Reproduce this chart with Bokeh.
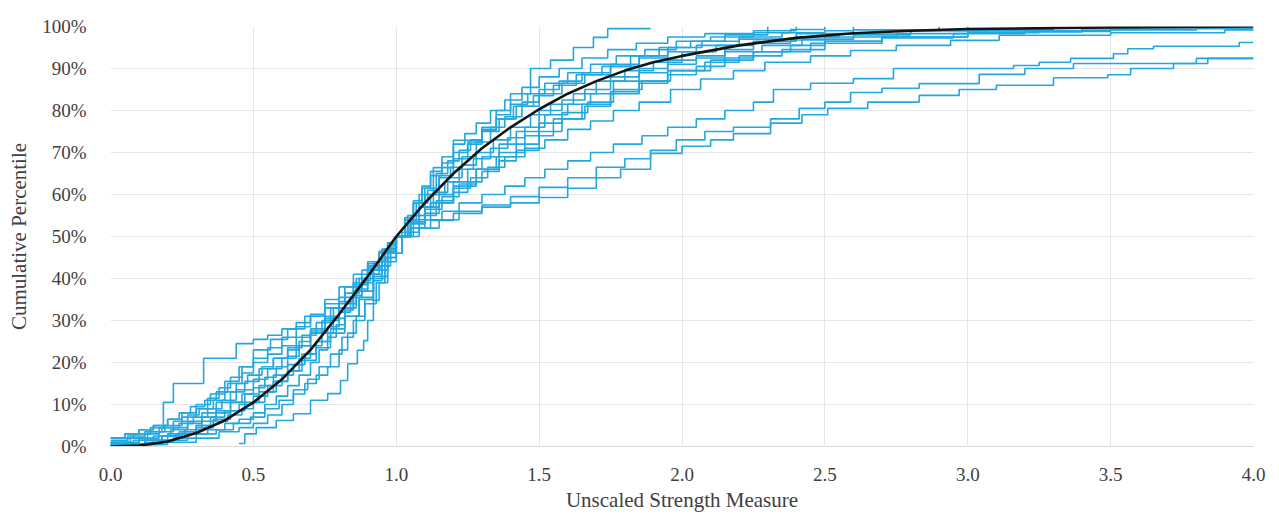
from bokeh.plotting import figure
from bokeh.models import Range1d, SingleIntervalTicker, PrintfTickFormatter, ColumnDataSource
from bokeh.embed import file_html
from bokeh.resources import INLINE

# ---- data (x = unscaled strength, y = cumulative percentile in %) ----
ref_x = [0, 0.1, 0.2, 0.3, 0.4, 0.5, 0.6, 0.7, 0.8, 0.9, 1.0, 1.1, 1.2, 1.3, 1.4, 1.5, 1.6, 1.7, 1.8, 1.9,
         2.0, 2.2, 2.4, 2.6, 2.8, 3.0, 3.5, 4.0]
ref_y = [0, 0.2, 1.2, 3.2, 6.2, 10.5, 16, 23, 31.5, 40.5, 50, 58, 65, 71, 76, 80.3, 84, 87, 89.5, 91.5,
         93, 95.5, 97.3, 98.4, 99, 99.4, 99.8, 100]

a_x = [0, 0.06, 0.12, 0.17, 0.22, 0.27, 0.31, 0.36, 0.40, 0.44, 0.48, 0.53, 0.57, 0.62, 0.66, 0.70, 0.75, 0.80,
       0.85, 0.90, 0.95, 1.0, 1.05, 1.1, 1.16, 1.22, 1.3, 1.38, 1.45, 1.52, 1.6, 1.68, 1.76, 1.86, 1.95, 2.05,
       2.15, 2.25, 2.32, 2.45, 2.6, 2.74, 3.16, 3.25, 3.36, 3.51, 3.56, 3.65, 3.95, 4.0]
a_y = [1, 2, 3, 4.5, 6, 7.5, 9, 11, 13, 15, 17, 19, 21, 23, 25, 27.5, 30, 33, 37, 41, 45, 50, 52, 54, 56, 58,
       60, 62, 64, 66, 68, 70, 72, 74, 76, 78, 80, 82, 85, 86.5, 87.6, 90, 90.7, 91.5, 92.4, 93.5, 94.7, 95.3,
       96.2, 96.2]

b_x = [0, 0.05, 0.1, 0.15, 0.2, 0.24, 0.28, 0.33, 0.37, 0.41, 0.46, 0.5, 0.55, 0.6, 0.65, 0.7, 0.75, 0.8, 0.86,
       0.92, 0.97, 1.02, 1.08, 1.15, 1.22, 1.3, 1.4, 1.5, 1.6, 1.7, 1.8, 1.89, 1.98, 2.08, 2.18, 2.31, 2.41, 2.5,
       2.59, 2.7, 2.83, 3.04, 3.2, 3.37, 3.8, 4.0]
b_y = [2, 3, 4, 5, 6.5, 8, 9.5, 11, 13, 15, 17.5, 20, 22, 24, 26, 28, 30.5, 33, 37, 42, 46, 50, 52, 54, 56,
       57.5, 59.5, 61.7, 64, 66.5, 68.5, 70.5, 73, 75, 76, 78, 80.5, 82, 84.3, 85.3, 86.4, 88.6, 90, 91.2, 92.4,
       92.4]

c_x = [0, 0.08, 0.15, 0.21, 0.27, 0.32, 0.37, 0.42, 0.47, 0.52, 0.57, 0.62, 0.67, 0.72, 0.77, 0.82, 0.87, 0.92,
       0.96, 1.0, 1.05, 1.12, 1.2, 1.3, 1.4, 1.5, 1.6, 1.7, 1.785, 1.89, 2.0, 2.1, 2.18, 2.31, 2.42, 2.51, 2.65,
       2.83, 2.97, 3.10, 3.3, 3.49, 3.57, 3.72, 3.84, 4.0]
c_y = [0.5, 1.5, 2.5, 4, 5.5, 7, 8.5, 10.5, 12.5, 14.5, 17, 19.5, 22, 25, 28, 31, 35, 40, 45, 50, 52, 53.8,
       55.5, 57, 58, 59.3, 61.5, 64, 66, 69.8, 71.5, 73, 74.5, 77, 79, 80.5, 82, 83.6, 85, 86, 87.8, 88.5, 90,
       91.2, 92.4, 92.4]

d_x = [0, 0.1, 0.18, 0.25, 0.3, 0.36, 0.42, 0.47, 0.52, 0.57, 0.62, 0.67, 0.72, 0.77, 0.82, 0.87, 0.92, 0.97,
       1.02, 1.08, 1.14, 1.2, 1.26, 1.32, 1.38, 1.45, 1.52, 1.6, 1.68, 1.76, 1.85, 1.96, 2.065, 2.18, 2.29, 2.45,
       2.59, 2.75, 2.94, 3.11, 3.5, 3.9, 4.0]
d_y = [0.5, 1.5, 2.5, 3.5, 5, 6.5, 8.5, 10.5, 13, 15.5, 18, 20.5, 23.5, 27, 31, 35.5, 40.5, 46, 51, 55, 58.5,
       61.5, 64, 66.5, 69, 71, 73, 75.5, 77.5, 80, 82, 85, 87.5, 89.5, 91.5, 93, 94.3, 95.5, 96.7, 97.9, 98.5,
       99.2, 99.2]

s_x = [0, 0.12, 0.22, 0.3, 0.37, 0.43, 0.49, 0.54, 0.59, 0.64, 0.69, 0.73, 0.77, 0.81, 0.85, 0.89, 0.93, 0.97,
       1.0, 1.04, 1.08, 1.13, 1.2, 1.3, 1.35, 1.4, 1.47, 1.54, 1.62, 1.69, 1.74, 1.89]
s_y = [0.5, 1, 2, 3, 4, 5.5, 7, 9, 11, 13.5, 16, 19, 22, 26, 30, 34, 39, 44, 50, 55, 60, 66.4, 72.9, 75.2, 80,
       84, 90, 92, 95, 97.4, 99.5, 99.5]

l_x = [0.45, 0.47, 0.51, 0.58, 0.64, 0.70, 0.76, 0.805, 0.83, 0.864, 0.886, 0.9, 0.92, 0.94, 0.96, 0.98, 1.0,
       1.05, 1.1, 1.15, 1.2, 1.25, 1.3, 1.36, 1.42, 1.5, 1.58, 1.66, 1.75, 1.85, 1.95, 2.05, 2.2, 2.4, 2.6, 2.9]
l_y = [0.7, 3, 4.5, 6.2, 7.8, 11, 12.6, 15.7, 19.7, 22.9, 25.2, 30, 34.8, 39, 43, 47, 50, 55, 60, 64.5, 68.5,
       72, 75, 78, 81, 84, 86.5, 88.5, 90.5, 92.5, 94, 95.5, 97, 98.3, 99.2, 100]

u_x = [0, 0.08, 0.14, 0.185, 0.22, 0.326, 0.44, 0.5, 0.55, 0.6, 0.65, 0.7, 0.75, 0.8, 0.85, 0.9, 0.95, 1.0,
       1.06, 1.12, 1.2, 1.28, 1.36, 1.45, 1.55, 1.65, 1.75, 1.85, 1.95, 2.1, 2.25, 2.45, 2.7, 3.0, 3.4]
u_y = [2, 3, 4.5, 10.5, 15, 21, 24.5, 25.5, 26.5, 28, 29.5, 31, 33, 35.5, 39, 43, 46.5, 50, 54, 58, 62, 66, 70,
       74, 78, 81.5, 84.5, 87, 89.5, 92, 94, 96, 97.5, 98.7, 99.5]

n1_x = [0, 0.07, 0.13, 0.19, 0.25, 0.3, 0.34, 0.38, 0.42, 0.46, 0.5, 0.55, 0.6, 0.65, 0.7, 0.75, 0.8, 0.85,
        0.9, 0.95, 1.0, 1.05, 1.1, 1.15, 1.2, 1.25, 1.3, 1.36, 1.42, 1.5, 1.58, 1.66, 1.75, 1.85, 1.95, 2.05,
        2.15, 2.25, 2.38, 2.5, 2.7, 3.0, 3.25, 3.5, 3.6]
n1_y = [1, 2, 3.5, 5, 7, 9, 11.5, 14, 16.5, 19, 21, 23.5, 26, 28.5, 31.5, 35, 38, 41, 44, 47, 50, 53, 55.5,
        58, 60.5, 63, 65.5, 68, 70.5, 75, 78, 81, 84, 86.5, 88.5, 90.5, 92.5, 94, 95.5, 96.5, 97.5, 98.5, 99,
        99.3, 100]

n2_x = [0, 0.1, 0.17, 0.22, 0.27, 0.32, 0.37, 0.42, 0.47, 0.52, 0.57, 0.62, 0.67, 0.72, 0.77, 0.82, 0.87,
        0.92, 0.96, 1.0, 1.04, 1.08, 1.12, 1.17, 1.22, 1.27, 1.33, 1.39, 1.45, 1.52, 1.6, 1.68, 1.76, 1.85,
        1.95, 2.05, 2.15, 2.28, 2.42, 2.6, 2.8, 3.0]
n2_y = [1, 2, 3.5, 4.5, 6, 8, 10.5, 13, 15.5, 18.5, 21, 23.5, 26.5, 29.5, 33, 36.5, 40, 44, 47, 50, 54, 57,
        60, 63, 66, 68.5, 71, 73.5, 76, 79, 81.5, 84, 87, 89, 91, 92.5, 94, 95.5, 97, 98, 99, 100]

n3_x = [0, 0.12, 0.2, 0.26, 0.32, 0.37, 0.42, 0.46, 0.5, 0.54, 0.58, 0.62, 0.66, 0.7, 0.74, 0.78, 0.82, 0.86,
        0.9, 0.94, 0.97, 1.0, 1.03, 1.07, 1.11, 1.15, 1.19, 1.23, 1.28, 1.33, 1.38, 1.44, 1.5, 1.57, 1.65,
        1.75, 1.85, 1.95, 2.07, 2.2, 2.35, 2.5, 2.6]
n3_y = [0.5, 1.5, 3, 4, 6, 8, 10.5, 12.5, 14, 16.5, 19, 21.5, 24, 27, 30, 33, 36.5, 40, 43.5, 46.5, 48.5, 50,
        54, 58, 61, 64, 66.5, 69, 72.5, 76, 78.5, 82, 85, 87, 89, 91, 93, 95, 96.5, 97.5, 98.5, 99, 100]

n4_x = [0, 0.15, 0.23, 0.3, 0.36, 0.41, 0.46, 0.5, 0.54, 0.58, 0.62, 0.66, 0.7, 0.74, 0.78, 0.82, 0.86, 0.9,
        0.94, 0.97, 1.0, 1.03, 1.06, 1.1, 1.14, 1.18, 1.22, 1.26, 1.3, 1.35, 1.4, 1.46, 1.52, 1.6, 1.68, 1.77,
        1.87, 1.98, 2.1, 2.25, 2.38, 2.5]
n4_y = [0.5, 1.5, 3, 4.5, 6, 7.5, 9, 10.5, 13, 15.5, 18, 21, 24, 27, 30.5, 34, 37.5, 41, 44.5, 47.5, 50, 54,
        58, 61.5, 65, 68, 70.5, 73, 76, 79, 81.5, 84, 86.5, 89, 91, 93, 94.5, 96.5, 97.5, 98.5, 99.3, 100]

n5_x = [0, 0.18, 0.27, 0.34, 0.4, 0.45, 0.5, 0.54, 0.58, 0.62, 0.66, 0.7, 0.73, 0.76, 0.79, 0.82, 0.85, 0.88,
        0.91, 0.94, 0.97, 1.0, 1.03, 1.06, 1.09, 1.12, 1.16, 1.2, 1.24, 1.28, 1.33, 1.38, 1.44, 1.5, 1.57,
        1.65, 1.74, 1.84, 1.95, 2.08, 2.25, 2.4]
n5_y = [0.5, 1.5, 3, 4, 5.5, 6.5, 8, 10, 12, 14.5, 17, 20, 23, 26, 29, 32.5, 36, 39.5, 43, 46, 48.5, 50, 54.5,
        58.5, 62, 65.5, 69, 72, 74.5, 77, 80, 82.5, 85.5, 88, 90, 92.5, 94.5, 96, 97.5, 98.3, 99, 100]

n6_x = [0, 0.06, 0.12, 0.18, 0.24, 0.29, 0.34, 0.39, 0.44, 0.5, 0.55, 0.6, 0.65, 0.7, 0.75, 0.8, 0.85, 0.9,
        0.95, 1.0, 1.05, 1.1, 1.16, 1.22, 1.28, 1.35, 1.42, 1.5, 1.58, 1.67, 1.76, 1.86, 1.96, 2.08, 2.2, 2.35,
        2.5, 2.7, 2.95, 3.2, 3.5, 3.8, 4.0]
n6_y = [1.5, 2.5, 3.5, 4.5, 5.5, 7, 9, 11, 13.5, 16, 18.5, 21, 24, 27, 31, 34.5, 38.5, 42.5, 46.5, 50, 53.5,
        56.5, 59.5, 62.5, 66, 69, 72, 77, 79.5, 82, 85, 87, 89.5, 91.5, 93, 94.5, 96.5, 97.3, 98.3, 98.8, 99.2,
        99.5, 99.5]

n7_x = [0, 0.1, 0.18, 0.24, 0.3, 0.35, 0.4, 0.45, 0.5, 0.55, 0.6, 0.64, 0.68, 0.72, 0.76, 0.8, 0.84, 0.88,
        0.92, 0.96, 1.0, 1.04, 1.08, 1.13, 1.18, 1.23, 1.28, 1.34, 1.4, 1.47, 1.54, 1.62, 1.7, 1.8, 1.9, 2.0,
        2.12, 2.25, 2.4, 2.55, 2.8, 3.0, 3.3]
n7_y = [0.5, 1.5, 2.5, 3.5, 5, 7, 8.5, 10, 12, 14.5, 17, 19.5, 22, 25, 28.5, 32, 35.5, 39, 43, 47, 50, 53.5,
        57, 60.5, 64, 67, 70, 73, 76, 79, 81.5, 84, 87, 89.5, 91.5, 94, 95.5, 96.5, 97.5, 98.2, 99, 99.3, 100]

n8_x = [0, 0.2, 0.3, 0.38, 0.45, 0.5, 0.55, 0.6, 0.64, 0.68, 0.72, 0.76, 0.8, 0.83, 0.86, 0.89, 0.92, 0.95,
        0.98, 1.0, 1.03, 1.06, 1.09, 1.12, 1.16, 1.2, 1.25, 1.3, 1.35, 1.41, 1.48, 1.55, 1.63, 1.72, 1.82, 1.92,
        2.03, 2.15, 2.3]
n8_y = [0.5, 1, 2, 3.5, 4.5, 5.5, 7.5, 10, 12.5, 15, 17, 19, 23, 27, 31, 35, 39.5, 44, 48, 50, 54, 58, 61.5,
        64.5, 67.5, 70, 72.5, 75.5, 78, 81, 83.5, 86, 88.5, 90.5, 93, 95, 96.5, 98, 100]

n9_x = [0, 0.05, 0.1, 0.15, 0.2, 0.25, 0.3, 0.35, 0.4, 0.45, 0.5, 0.56, 0.62, 0.68, 0.75, 0.82, 0.88, 0.94,
        1.0, 1.05, 1.1, 1.15, 1.2, 1.25, 1.3, 1.36, 1.42, 1.5, 1.58, 1.66, 1.75, 1.85, 1.95, 2.05, 2.15, 2.25,
        2.38, 2.5, 2.75, 3.0, 3.4, 3.8]
n9_y = [2, 3, 4, 5, 6.5, 8, 10, 12.5, 15.5, 19, 23, 25.5, 28, 31, 34, 38, 42, 46, 50, 53.5, 57, 60, 63, 66,
        69, 72, 75, 80, 82.5, 85, 88, 90, 92, 93, 94.5, 96, 96.8, 97.5, 98.3, 99, 99.4, 99.6]

samples = [(a_x, a_y), (b_x, b_y), (c_x, c_y), (d_x, d_y), (s_x, s_y), (l_x, l_y), (u_x, u_y),
           (n1_x, n1_y), (n2_x, n2_y), (n3_x, n3_y), (n4_x, n4_y), (n5_x, n5_y), (n6_x, n6_y),
           (n7_x, n7_y), (n8_x, n8_y), (n9_x, n9_y)]

x_ticks_step = 0.5
y_ticks_step = 10

# ---- figure ----
FONT = "Liberation Serif"
p = figure(width=1279, height=517, output_backend="svg", toolbar_location=None,
           x_range=Range1d(0, 4), y_range=Range1d(0, 100),
           min_border_left=110, min_border_right=26, min_border_top=26, min_border_bottom=71)
p.outline_line_color = None
p.background_fill_color = "white"

p.xaxis.ticker = SingleIntervalTicker(interval=x_ticks_step)
p.yaxis.ticker = SingleIntervalTicker(interval=y_ticks_step)
p.xaxis.formatter = PrintfTickFormatter(format="%.1f")
p.yaxis.formatter = PrintfTickFormatter(format="%d%%")
p.xaxis.minor_tick_line_color = None
p.yaxis.minor_tick_line_color = None
p.xaxis.major_tick_line_color = None
p.yaxis.major_tick_line_color = None
p.xaxis.axis_line_color = "#d9d9d9"
p.yaxis.axis_line_color = None
for ax in (p.xaxis, p.yaxis):
    ax.major_label_text_font = FONT
    ax.major_label_text_font_size = "19px"
    ax.major_label_text_color = "#404040"
    ax.axis_label_text_font = FONT
    ax.axis_label_text_font_size = "21px"
    ax.axis_label_text_font_style = "normal"
    ax.axis_label_text_color = "#404040"
p.xaxis.major_label_standoff = 15
p.yaxis.major_label_standoff = 18
p.xaxis.axis_label = "Unscaled Strength Measure"
p.yaxis.axis_label = "Cumulative Percentile"
p.xaxis.axis_label_standoff = 4
p.yaxis.axis_label_standoff = 8

p.xgrid.grid_line_color = "#e6e6e6"
p.ygrid.grid_line_color = "#e6e6e6"

for xs, ys in samples:
    src = ColumnDataSource(dict(x=xs, y=ys))
    p.step(x="x", y="y", source=src, mode="after", line_color="#22a7df", line_width=1.6)

p.line(x=ref_x, y=ref_y, line_color="#141414", line_width=2.6)

open("out.html", "w").write(file_html(p, INLINE))
